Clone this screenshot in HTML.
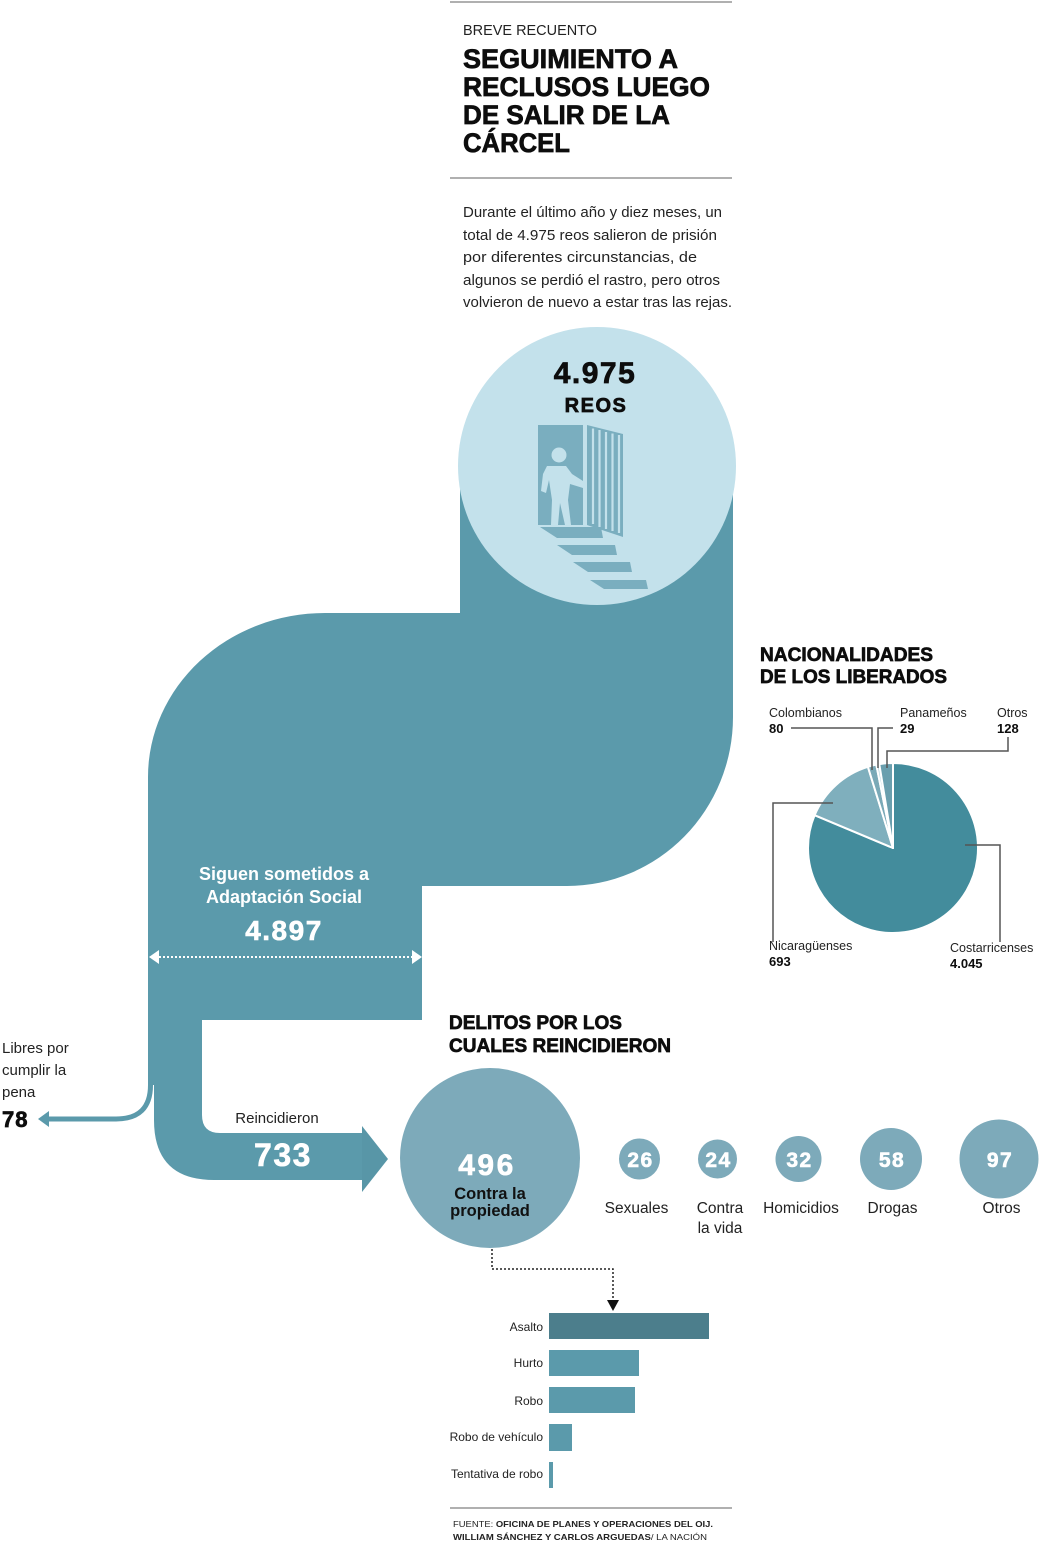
<!DOCTYPE html>
<html>
<head>
<meta charset="utf-8">
<style>
  html, body { margin:0; padding:0; background:#fff; }
  svg { display:block; }
  text { font-family: "Liberation Sans", Arial, sans-serif; }
  .b { font-weight:bold; }
  .hv { stroke:#0d0d0d; stroke-width:0.7; }
  .hw { stroke:#ffffff; stroke-width:0.6; }
</style>
</head>
<body>
<svg width="1040" height="1544" viewBox="0 0 1040 1544" xmlns="http://www.w3.org/2000/svg">
  <rect x="0" y="0" width="1040" height="1544" fill="#ffffff"/>

  <!-- Header -->
  <rect x="450" y="1" width="282" height="2" fill="#b0b0b0"/>
  <text x="463" y="35" font-size="14.5" fill="#222" textLength="134" lengthAdjust="spacingAndGlyphs">BREVE RECUENTO</text>
  <text x="463" y="68" font-size="26.5" class="b hv" fill="#0d0d0d" textLength="215" lengthAdjust="spacingAndGlyphs">SEGUIMIENTO A</text>
  <text x="463" y="96" font-size="26.5" class="b hv" fill="#0d0d0d" textLength="247" lengthAdjust="spacingAndGlyphs">RECLUSOS LUEGO</text>
  <text x="463" y="124" font-size="26.5" class="b hv" fill="#0d0d0d" textLength="207" lengthAdjust="spacingAndGlyphs">DE SALIR DE LA</text>
  <text x="463" y="152" font-size="26.5" class="b hv" fill="#0d0d0d" textLength="107" lengthAdjust="spacingAndGlyphs">CÁRCEL</text>
  <rect x="450" y="177" width="282" height="2" fill="#b0b0b0"/>

  <g font-size="15" fill="#222">
    <text x="463" y="217" textLength="259" lengthAdjust="spacingAndGlyphs">Durante el último año y diez meses, un</text>
    <text x="463" y="240" textLength="254" lengthAdjust="spacingAndGlyphs">total de 4.975 reos salieron de prisión</text>
    <text x="463" y="262" textLength="234" lengthAdjust="spacingAndGlyphs">por diferentes circunstancias, de</text>
    <text x="463" y="285" textLength="257" lengthAdjust="spacingAndGlyphs">algunos se perdió  el rastro, pero otros</text>
    <text x="463" y="307" textLength="269" lengthAdjust="spacingAndGlyphs">volvieron  de nuevo a estar tras las rejas.</text>
  </g>

  <!-- Main flow band -->
  <path d="M460 466 L460 613 L325 613 A177 164 0 0 0 148 777 L148 1020 L422 1020 L422 886 L567 886 A166 169 0 0 0 733 717 L733 466 Z" fill="#5b9aab"/>

  <!-- Top circle -->
  <circle cx="597" cy="466" r="139" fill="#c3e1eb"/>
  <text x="595" y="383" font-size="30" class="b hv" fill="#0d0d0d" text-anchor="middle" letter-spacing="1.5">4.975</text>
  <text x="596" y="412" font-size="20" class="b hv" fill="#0d0d0d" text-anchor="middle" letter-spacing="1.5">REOS</text>

  <!-- Icon: door frame -->
  <rect x="538" y="425" width="45" height="100" fill="#7aaebf"/>
  <polygon points="587,425 623,434 623,537 587,525" fill="#7aaebf"/>
  <g stroke="#c3e1eb" stroke-width="2.2">
    <line x1="593" y1="428.5" x2="593" y2="524"/>
    <line x1="599.5" y1="430" x2="599.5" y2="527"/>
    <line x1="606" y1="432" x2="606" y2="529"/>
    <line x1="612.5" y1="433.5" x2="612.5" y2="531"/>
    <line x1="619" y1="435" x2="619" y2="533"/>
  </g>
  <circle cx="559" cy="455" r="7.5" fill="#c3e1eb"/>
  <polygon points="547,466 566,466 572,474 583,481 583,488 570,484 568,500 571,525 565,525 560,503 558,525 551,525 552,500 549,480 546,493 541,491 543,474" fill="#c3e1eb"/>
  <g fill="#7aaebf">
    <polygon points="540,527 601,527 603,538 557,538"/>
    <polygon points="557,545 615,545 617,555 572,555"/>
    <polygon points="573,562 630,562 632,572 588,572"/>
    <polygon points="590,580 646,580 648,589 604,589"/>
  </g>

  <!-- Siguen sometidos text -->
  <text x="284" y="880" font-size="18" class="b" fill="#fff" text-anchor="middle">Siguen sometidos a</text>
  <text x="284" y="903" font-size="18" class="b" fill="#fff" text-anchor="middle">Adaptación Social</text>
  <text x="284" y="940" font-size="28" class="b hw" fill="#fff" text-anchor="middle" letter-spacing="1.5">4.897</text>

  <!-- dotted double arrow -->
  <line x1="159" y1="957" x2="412" y2="957" stroke="#fff" stroke-width="2" stroke-dasharray="2 2"/>
  <polygon points="149,957 159,950 159,964" fill="#fff"/>
  <polygon points="422,957 412,950 412,964" fill="#fff"/>

  <!-- thin branch 78 -->
  <path d="M150.5 1018 L150.5 1085 Q150.5 1119 116 1119 L46 1119" fill="none" stroke="#5b9aab" stroke-width="5"/>
  <polygon points="38,1119 49,1111 49,1127" fill="#5b9aab"/>

  <!-- 733 band -->
  <path d="M152.5 1018 L202 1018 L202 1115 Q202 1133 220 1133 L363 1133 L363 1180 L214 1180 Q154 1180 154 1120 L154 1085 L152.5 1085 Z" fill="#5b9aab"/>
  <polygon points="362,1126 388,1159 362,1192" fill="#5896a7"/>
  <rect x="362" y="1133" width="2" height="47" fill="#5896a7"/>
  <text x="277" y="1123" font-size="15" fill="#222" text-anchor="middle">Reincidieron</text>
  <text x="283" y="1166" font-size="32" class="b hw" fill="#fff" text-anchor="middle" letter-spacing="1.5">733</text>

  <!-- Libres por cumplir la pena -->
  <g font-size="15" fill="#222">
    <text x="2" y="1053">Libres por</text>
    <text x="2" y="1075">cumplir la</text>
    <text x="2" y="1097">pena</text>
  </g>
  <text x="2" y="1127" font-size="22" class="b hv" fill="#0d0d0d" letter-spacing="1">78</text>

  <!-- Nacionalidades pie -->
  <text x="760" y="661" font-size="19.5" class="b hv" fill="#0d0d0d" textLength="173" lengthAdjust="spacingAndGlyphs">NACIONALIDADES</text>
  <text x="760" y="683" font-size="19.5" class="b hv" fill="#0d0d0d" textLength="187" lengthAdjust="spacingAndGlyphs">DE LOS LIBERADOS</text>

  <g stroke="#fff" stroke-width="2" stroke-linejoin="round">
    <path d="M893 848 L893 763 A85 85 0 1 1 814.6 815.2 Z" fill="#438c9c"/>
    <path d="M893 848 L814.6 815.2 A85 85 0 0 1 867.9 766.8 Z" fill="#7fafbd"/>
    <path d="M893 848 L867.9 766.8 A85 85 0 0 1 876.3 764.7 Z" fill="#7aa9b7"/>
    <path d="M893 848 L876.3 764.7 A85 85 0 0 1 879.3 764.1 Z" fill="#b9d6df"/>
    <path d="M893 848 L879.3 764.1 A85 85 0 0 1 893 763 Z" fill="#6a9fae"/>
  </g>

  <g fill="none" stroke="#555" stroke-width="1.5">
    <polyline points="791,728 872,728 872,770"/>
    <polyline points="893,728 878,728 878,768"/>
    <polyline points="1008,737 1008,751 887,751 887,768"/>
    <polyline points="833,803 773,803 773,942"/>
    <polyline points="965,845 1000,845 1000,942"/>
  </g>

  <g font-size="12.5" fill="#222">
    <text x="769" y="717">Colombianos</text>
    <text x="900" y="717">Panameños</text>
    <text x="997" y="717">Otros</text>
    <text x="769" y="950">Nicaragüenses</text>
    <text x="950" y="952">Costarricenses</text>
  </g>
  <g font-size="13" class="b" fill="#0d0d0d">
    <text x="769" y="733">80</text>
    <text x="900" y="733">29</text>
    <text x="997" y="733">128</text>
    <text x="769" y="966">693</text>
    <text x="950" y="968">4.045</text>
  </g>

  <!-- Delitos -->
  <text x="449" y="1029" font-size="19.5" class="b hv" fill="#0d0d0d" textLength="173" lengthAdjust="spacingAndGlyphs">DELITOS POR LOS</text>
  <text x="449" y="1052" font-size="19.5" class="b hv" fill="#0d0d0d" textLength="222" lengthAdjust="spacingAndGlyphs">CUALES REINCIDIERON</text>

  <circle cx="490" cy="1158" r="90" fill="#7daaba"/>
  <text x="487" y="1175" font-size="30" class="b hw" fill="#fff" text-anchor="middle" letter-spacing="2.5">496</text>
  <text x="490" y="1199" font-size="16.5" class="b" fill="#111" text-anchor="middle">Contra la</text>
  <text x="490" y="1216" font-size="16.5" class="b" fill="#111" text-anchor="middle">propiedad</text>

  <g fill="#7daaba">
    <circle cx="639.5" cy="1159" r="20.5"/>
    <circle cx="717.5" cy="1159" r="19.5"/>
    <circle cx="798.5" cy="1159" r="23"/>
    <circle cx="891" cy="1159" r="31"/>
    <circle cx="999" cy="1159" r="39.5"/>
  </g>
  <g font-size="21" class="b hw" fill="#fff" text-anchor="middle" letter-spacing="1.5">
    <text x="640.5" y="1167">26</text>
    <text x="718.5" y="1167">24</text>
    <text x="799.5" y="1167">32</text>
    <text x="892" y="1167">58</text>
    <text x="1000" y="1167">97</text>
  </g>
  <g font-size="15.5" fill="#222" text-anchor="middle">
    <text x="636.5" y="1213">Sexuales</text>
    <text x="720" y="1213">Contra</text>
    <text x="720" y="1233">la vida</text>
    <text x="801" y="1213">Homicidios</text>
    <text x="892.5" y="1213">Drogas</text>
    <text x="1001.5" y="1213">Otros</text>
  </g>

  <!-- dotted connector -->
  <polyline points="492,1249 492,1269 613,1269 613,1301" fill="none" stroke="#222" stroke-width="1.5" stroke-dasharray="2 2"/>
  <polygon points="607,1300 619,1300 613,1311" fill="#111"/>

  <!-- bars -->
  <rect x="549" y="1313" width="160" height="26" fill="#4c7e8c"/>
  <rect x="549" y="1350" width="90" height="26" fill="#5b9aab"/>
  <rect x="549" y="1387" width="86" height="26" fill="#5b9aab"/>
  <rect x="549" y="1424" width="23" height="27" fill="#5b9aab"/>
  <rect x="549" y="1462" width="4" height="26" fill="#5b9aab"/>
  <g font-size="12" fill="#222" text-anchor="end">
    <text x="543" y="1331">Asalto</text>
    <text x="543" y="1367">Hurto</text>
    <text x="543" y="1405">Robo</text>
    <text x="543" y="1441">Robo de vehículo</text>
    <text x="543" y="1478">Tentativa de robo</text>
  </g>

  <!-- footer -->
  <rect x="450" y="1507" width="282" height="2" fill="#b0b0b0"/>
  <text x="453" y="1527" font-size="8.5" fill="#222" textLength="260" lengthAdjust="spacingAndGlyphs"><tspan>FUENTE: </tspan><tspan class="b">OFICINA DE PLANES Y OPERACIONES DEL OIJ.</tspan></text>
  <text x="453" y="1540" font-size="8.5" fill="#222" textLength="254" lengthAdjust="spacingAndGlyphs"><tspan class="b">WILLIAM SÁNCHEZ Y CARLOS ARGUEDAS</tspan><tspan>/ LA NACIÓN</tspan></text>
</svg>
</body>
</html>
